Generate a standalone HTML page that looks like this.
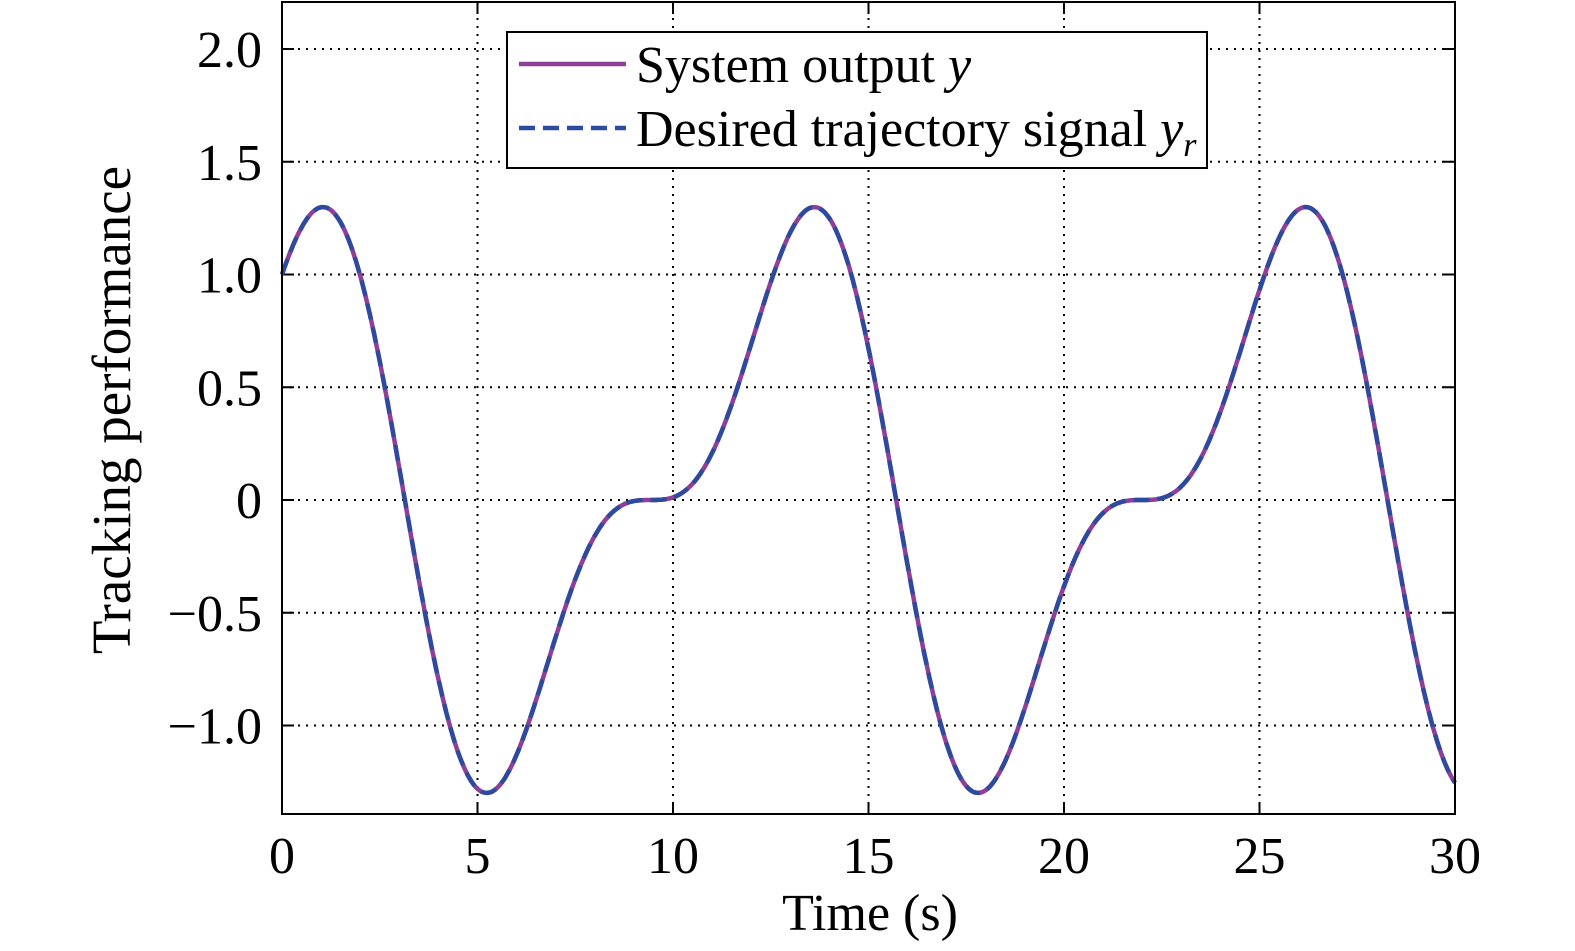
<!DOCTYPE html>
<html><head><meta charset="utf-8"><style>
html,body{margin:0;padding:0;background:#fff;}
svg{display:block;font-family:"Liberation Serif",serif;}
</style></head><body>
<svg id="s" width="1575" height="951" viewBox="0 0 1575 951" xmlns="http://www.w3.org/2000/svg">
<rect width="1575" height="951" fill="#fff"/>
<g id="grid" stroke="#000" stroke-width="2" stroke-dasharray="2,6"></g>
<g id="ticks" stroke="#000" stroke-width="2"></g>
<path id="p1" fill="none" stroke="#8e3f98" stroke-width="4.5"/>
<path id="p2" fill="none" stroke="#2e4a9e" stroke-width="4.5" stroke-dasharray="16,8"/>
<rect x="282" y="2" width="1173" height="812" fill="none" stroke="#000" stroke-width="2"/>
<g font-size="52" fill="#000" id="lab"></g>
<text x="870" y="930" font-size="52" text-anchor="middle">Time (s)</text>
<text transform="translate(130,410) rotate(-90)" font-size="55" text-anchor="middle">Tracking performance</text>
<rect x="507" y="32" width="700" height="136" fill="#fff" stroke="#000" stroke-width="2"/>
<line x1="519" y1="64" x2="626" y2="64" stroke="#8e3f98" stroke-width="4.5"/>
<line x1="519" y1="128" x2="626" y2="128" stroke="#2e4a9e" stroke-width="4.5" stroke-dasharray="16,8"/>
<text x="636" y="82" font-size="52">System output <tspan font-style="italic">y</tspan></text>
<text x="636" y="146" font-size="52">Desired trajectory signal <tspan font-style="italic">y</tspan><tspan font-style="italic" font-size="34" dy="10">r</tspan></text>
</svg>
<script>
var X=function(t){return 282+t*39.1;},Y=function(v){return 500-v*225.5;};
var g=document.getElementById('grid'),tk=document.getElementById('ticks'),lab=document.getElementById('lab');
var NS="http://www.w3.org/2000/svg";
function el(p,n,a,txt){var e=document.createElementNS(NS,n);for(var k in a)e.setAttribute(k,a[k]);if(txt!=null)e.textContent=txt;p.appendChild(e);}
for(var i=0;i<=6;i++){var x=X(i*5);
 if(i>0&&i<6)el(g,'line',{x1:x,y1:2,x2:x,y2:814});
 el(tk,'line',{x1:x,y1:814,x2:x,y2:802});el(tk,'line',{x1:x,y1:2,x2:x,y2:14});
 el(lab,'text',{x:x,y:873,'text-anchor':'middle'},String(i*5));}
var yv=[[2,'2.0'],[1.5,'1.5'],[1,'1.0'],[0.5,'0.5'],[0,'0'],[-0.5,'\u22120.5'],[-1,'\u22121.0']];
yv.forEach(function(a){var y=Y(a[0]);
 el(g,'line',{x1:282,y1:y,x2:1455,y2:y});
 el(tk,'line',{x1:282,y1:y,x2:294,y2:y});el(tk,'line',{x1:1455,y1:y,x2:1443,y2:y});
 el(lab,'text',{x:262,y:y+18,'text-anchor':'end'},a[1]);});
var d='';for(var t=0;t<=30.0001;t+=0.05){var v=Math.cos(t/2)+0.5*Math.sin(t);d+=(t==0?'M':'L')+X(t).toFixed(1)+','+Y(v).toFixed(1);}
document.getElementById('p1').setAttribute('d',d);document.getElementById('p2').setAttribute('d',d);
</script>
</body></html>
